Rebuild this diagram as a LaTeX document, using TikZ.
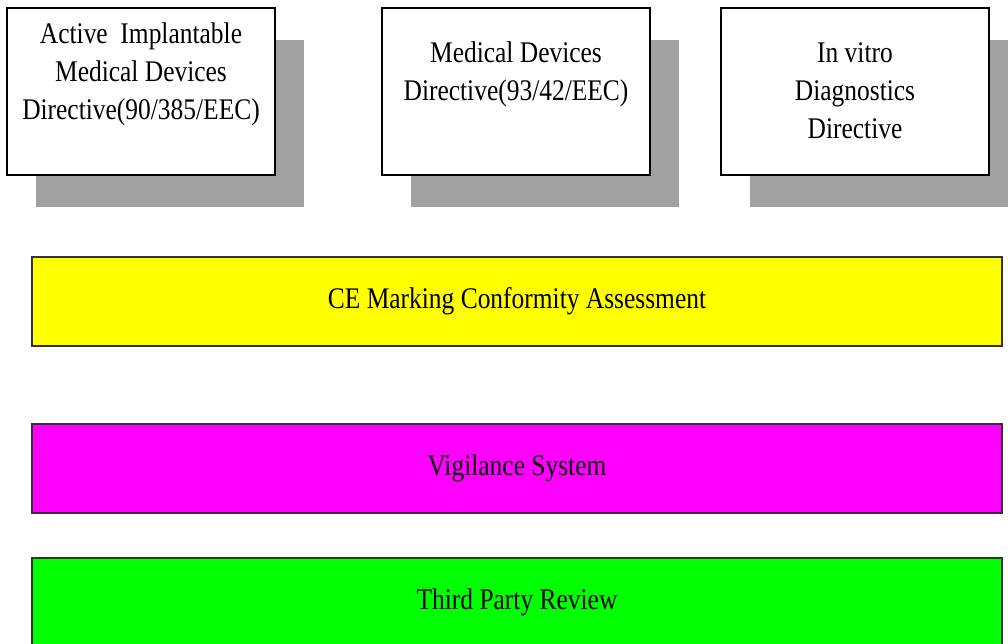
\documentclass[tikz,border=0pt]{standalone}
\usepackage{fontspec}
\setmainfont{Liberation Serif}
\newfontfamily\narrowserif[FakeStretch=0.85]{Liberation Serif}
\usetikzlibrary{positioning,shadows}

\definecolor{ceyellow}{RGB}{255,255,0}
\definecolor{vigmagenta}{RGB}{255,0,255}
\definecolor{tprgreen}{RGB}{0,255,0}

\tikzset{
  directive/.style={draw=black, line width=1.2pt, fill=white,
    minimum width=6.7cm, minimum height=4.175cm,
    drop shadow={shadow xshift=0.725cm, shadow yshift=-0.8cm, fill=black!37, opacity=1}},
  dirtext/.style={align=center, inner sep=0pt,
    font=\narrowserif\fontsize{21.3}{27}\selectfont},
  bar/.style={draw=black!80, line width=1.2pt,
    minimum width=24.25cm, minimum height=2.225cm,
    font=\narrowserif\fontsize{21.3}{27}\selectfont}
}

\begin{document}
\begin{tikzpicture}
  \useasboundingbox (0,0) rectangle (25.2,-16.075);
  \clip (0,0) rectangle (25.2,-16.075);
  % the three directives
  \node[directive] (aimdd) at (3.525,-2.2875) {};
  \node[directive] (mdd) at (12.9,-2.2875) {};
  \node[directive] (ivdd) at (21.375,-2.2875) {};
  \node[dirtext, below=0.375cm of aimdd.north] (aimddtext)
    {Active\ \ Implantable\\Medical Devices\\Directive(90/385/EEC)};
  \node[dirtext, below=0.85cm of mdd.north] (mddtext)
    {Medical Devices\\Directive(93/42/EEC)};
  \node[dirtext, below=0.875cm of ivdd.north] (ivddtext)
    {In vitro\\Diagnostics\\Directive};
  % the three bars
  \node[bar, fill=ceyellow] (ce) at (12.925,-7.5375) {CE Marking Conformity Assessment};
  \node[bar, fill=vigmagenta] (vig) at (12.925,-11.7125) {Vigilance System};
  \node[bar, fill=tprgreen] (tpr) at (12.925,-15.0625) {Third Party Review};
\end{tikzpicture}
\end{document}
